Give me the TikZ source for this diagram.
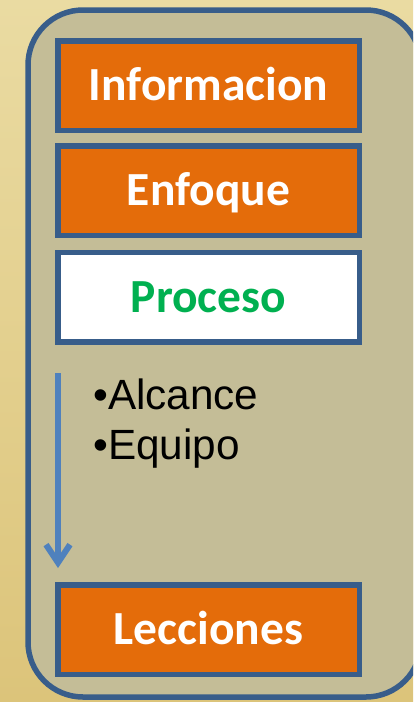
\documentclass[tikz,border=0pt]{standalone}
\usepackage{fontspec}
\setmainfont{Carlito}
\newfontfamily\arial{Liberation Sans}
\usetikzlibrary{arrows.meta}
\definecolor{fondo}{HTML}{EADBA2}
\definecolor{fondob}{HTML}{DCC47A}
\definecolor{marco}{HTML}{C4BD97}
\definecolor{borde}{HTML}{385D8A}
\definecolor{naranja}{HTML}{E46C0A}
\definecolor{verde}{HTML}{00B050}
\definecolor{flecha}{HTML}{4F81BD}
\begin{document}
\begin{tikzpicture}[x=1pt, y=-1pt,
    caja/.style={draw=borde, line width=5.5pt, fill=naranja, text=white,
        minimum width=301.5pt, minimum height=89.5pt, inner sep=0pt,
        font=\bfseries\fontsize{47.5}{50}\selectfont, text height=30.5pt, text depth=0pt},
    punto/.style={anchor=base west, inner sep=0pt, font=\arial\fontsize{42.3}{50}\selectfont}]
    \useasboundingbox (0, 0) rectangle (413, 702);
    \clip (0, 0) rectangle (413, 702);
    \fill [top color=fondo, bottom color=fondob] (0, 0) rectangle (413, 702);
    \draw [line width=5.5pt, draw=borde, fill=marco, rounded corners=55pt] (28, 10) rectangle (421, 697);

    \node [caja] (info) at (208.5, 85.5) {Informacion};
    \node [caja] (enfoque) at (208.5, 190.5) {Enfoque};
    \node [caja, fill=white, text=verde] (proceso) at (208.5, 297) {Proceso};
    \node [caja] (lecciones) at (208.5, 629.5) {Lecciones};

    \node [punto] (alcance) at (93, 409) {•Alcance};
    \node [punto] (equipo) at (93, 459) {•Equipo};

    \coordinate (inicio) at (58, 373);
    \coordinate (fin) at (58, 568);
    \draw [flecha, line width=6pt, -{Straight Barb[length=18pt, width=24pt]}] (inicio) -- (fin);
\end{tikzpicture}
\end{document}
